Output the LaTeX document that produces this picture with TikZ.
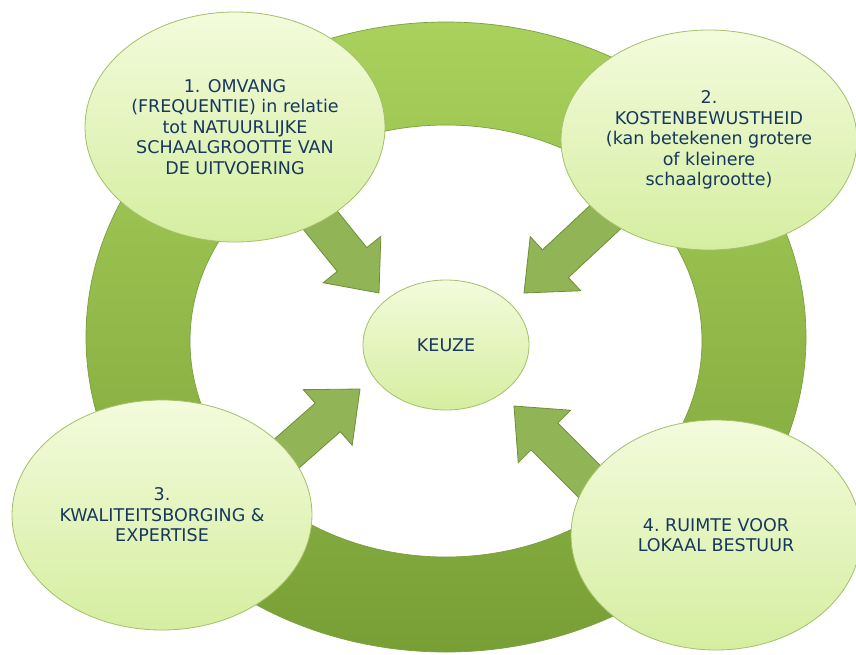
\documentclass[tikz,border=0pt]{standalone}
\usepackage{fontspec}
\setmainfont{DejaVu Sans}
\usetikzlibrary{shapes.geometric,calc}
\definecolor{txt}{HTML}{17375E}
\definecolor{ringtop}{HTML}{A9D15C}
\definecolor{ringmid}{HTML}{9BC34E}
\definecolor{ringbot}{HTML}{789F35}
\definecolor{ringedge}{HTML}{7E9E3E}
\definecolor{arrowfill}{HTML}{91B456}
\definecolor{arrowedge}{HTML}{6E8F35}
\definecolor{elltop}{HTML}{F3FBDC}
\definecolor{ellbot}{HTML}{D5EEA0}
\definecolor{elledge}{HTML}{A5BF6A}
\begin{document}
\begin{tikzpicture}[x=1pt,y=-1pt,
  bubble/.style={ellipse, draw=elledge, line width=0.8pt, top color=elltop,
    bottom color=ellbot, inner sep=0pt, align=center, text=txt,
    font=\fontsize{17.5}{20.5}\selectfont},
  blockarrow/.style={fill=arrowfill, draw=arrowedge, line width=0.8pt, line join=miter}]
\useasboundingbox (0,0) rectangle (856,654);
\fill[white] (0,0) rectangle (856,654);
% ring
\path[even odd rule, top color=ringtop, middle color=ringmid, bottom color=ringbot]
  (446,337) ellipse [x radius=360pt, y radius=315pt]
  (446,341) ellipse [x radius=256pt, y radius=216pt];
\draw[ringedge, line width=0.7pt] (446,337) ellipse [x radius=360pt, y radius=315pt];
\draw[ringedge, line width=0.7pt] (446,341) ellipse [x radius=256pt, y radius=216pt];
% arrow anchor points
\coordinate (S1) at (300,195); \coordinate (T1) at (379,293);
\coordinate (S2) at (613,210); \coordinate (T2) at (524,293);
\coordinate (S3) at (268,470); \coordinate (T3) at (360,389);
\coordinate (S4) at (601,493); \coordinate (T4) at (514,406);
\foreach \i in {1,2,3,4}{
  \coordinate (B\i) at ($(T\i)!43pt!(S\i)$);
  \draw[blockarrow] ($(S\i)!19pt!90:(T\i)$) -- ($(B\i)!19pt!90:(T\i)$)
    -- ($(B\i)!37pt!90:(T\i)$) -- (T\i) -- ($(B\i)!37pt!-90:(T\i)$)
    -- ($(B\i)!19pt!-90:(T\i)$) -- ($(S\i)!19pt!-90:(T\i)$) -- cycle;
}
% bubbles
\node[bubble, minimum width=300pt, minimum height=230pt] (b1) at (235,127)
  {1. OMVANG\\(FREQUENTIE) in relatie\\tot NATUURLIJKE\\SCHAALGROOTTE VAN\\DE UITVOERING};
\node[bubble, minimum width=296pt, minimum height=220pt] (b2) at (709,140)
  {2.\\KOSTENBEWUSTHEID\\(kan betekenen grotere\\of kleinere\\schaalgrootte)};
\node[bubble, minimum width=300pt, minimum height=230pt] (b3) at (162,515)
  {3.\\KWALITEITSBORGING \&\\EXPERTISE};
\node[bubble, minimum width=290pt, minimum height=230pt] (b4) at (716,535)
  {4.~RUIMTE VOOR\\LOKAAL BESTUUR};
\node[bubble, minimum width=166pt, minimum height=130pt] (c) at (446,345) {KEUZE};
\end{tikzpicture}
\end{document}
